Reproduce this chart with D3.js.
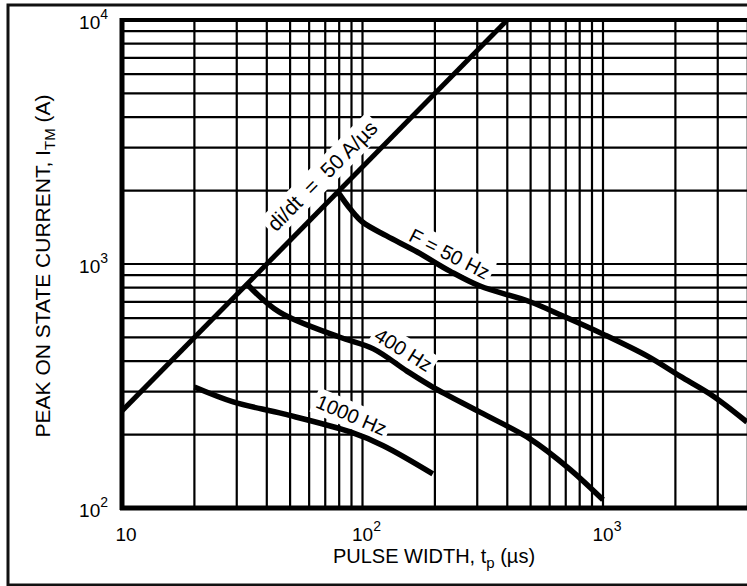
<!DOCTYPE html>
<html><head><meta charset="utf-8">
<script src="https://cdn.jsdelivr.net/npm/d3@7"></script>
<style>body{margin:0;background:#fff;overflow:hidden} svg{display:block}</style>
</head><body>
<svg id="c" width="747" height="586"></svg>
<script>
// ---- data ----
const xTickValues = [10, 100, 1000];
const xTickExps = ["", "2", "3"];
const yTickValues = [100, 1000, 10000];
const yTickExps = ["2", "3", "4"];
const xGridValues = [20,30,40,50,60,70,80,90,100,200,300,400,500,600,700,800,900,1000,2000,3000,4000];
const yGridValues = [200,300,400,500,600,700,800,900,1000,2000,3000,4000,5000,6000,7000,8000,9000];
const didtLine = [[10,250],[410,10250]];
const f50Hz = [[79,1975],[89,1680],[100,1486],[126,1303],[169,1120],[231,935],[308,812],[497,700],[682,612],[1000,516],[1524,420],[2090,347],[2865,288],[3970,225]];
const f400Hz = [[33,830],[45,636],[80,502],[111,449],[153,364],[196,313],[308,247],[497,192],[729,144],[1000,108]];
const f1000Hz = [[20,313],[29,272],[47,243],[89,205],[122,180],[196,138]];
const labelTexts = ["di/dt  =  50 A/µs", "F = 50 Hz", "400 Hz", "1000 Hz"];
const labelAt = [[68,2300],[230,1100],[148,445],[90,240]];
const labelAngles = [-45, 27, 32, 23];
const xTitle = ["PULSE WIDTH, t", "p", " (µs)"];
const yTitle = ["PEAK ON STATE CURRENT, I", "TM", " (A)"];

// ---- layout ----
const svg = d3.select("#c");
const L = 122, T = 20, B = 508, D = 240.5;
const x = d3.scaleLog().domain([10, 10000]).range([L, L + 3 * D]);
const y = d3.scaleLog().domain([100, 10000]).range([B, T]);
const R = 790;
const font = "'Liberation Sans', Arial, Helvetica, sans-serif";

svg.append("rect").attr("width", 747).attr("height", 586).attr("fill", "#fff");
svg.append("rect").attr("x", 8).attr("y", 5).attr("width", 820).attr("height", 580)
  .attr("fill", "none").attr("stroke", "#111").attr("stroke-width", 3);

svg.append("clipPath").attr("id", "plot").append("rect")
  .attr("x", L).attr("y", T).attr("width", R - L).attr("height", B - T);

const g = svg.append("g").attr("clip-path", "url(#plot)");
g.selectAll("line.v").data(xGridValues).join("line")
  .attr("x1", d => x(d)).attr("x2", d => x(d)).attr("y1", T).attr("y2", B)
  .attr("stroke", "#000").attr("stroke-width", 2.2);
g.selectAll("line.h").data(yGridValues).join("line")
  .attr("y1", d => y(d)).attr("y2", d => y(d)).attr("x1", L).attr("x2", R)
  .attr("stroke", "#000").attr("stroke-width", 2.2);

// layers: knockouts, curves, label text
const knock = svg.append("g");
const cg = svg.append("g").attr("clip-path", "url(#plot)");
const labels = svg.append("g");

const tf = (d, i) => `translate(${x(labelAt[i][0])},${y(labelAt[i][1])}) rotate(${labelAngles[i]})`;
const lt = labels.selectAll("text").data(labelTexts).join("text")
  .attr("transform", tf)
  .text(d => d).style("white-space", "pre")
  .attr("text-anchor", "middle").attr("dy", "0.35em")
  .attr("font-family", font).attr("font-size", (d, i) => i === 0 ? 21 : 20)
  .attr("fill", "#000");
lt.each(function(d, i) {
  const bb = this.getBBox();
  knock.append("rect").attr("transform", tf(d, i))
    .attr("x", bb.x - 3).attr("y", bb.y - 2).attr("width", bb.width + 6).attr("height", bb.height + 4)
    .attr("fill", "#fff");
});

const line = d3.line().x(d => x(d[0])).y(d => y(d[1]));
const smooth = d3.line().x(d => x(d[0])).y(d => y(d[1])).curve(d3.curveCatmullRom.alpha(0.5));
cg.append("path").attr("d", line(didtLine)).attr("fill", "none").attr("stroke", "#000").attr("stroke-width", 5);
[f50Hz, f400Hz, f1000Hz].forEach(s => {
  cg.append("path").attr("d", smooth(s))
    .attr("fill", "none").attr("stroke", "#000").attr("stroke-width", 5.5).attr("stroke-linecap", "butt");
});

// plot frame
svg.append("line").attr("x1", L).attr("x2", L).attr("y1", T - 2).attr("y2", B + 2).attr("stroke", "#000").attr("stroke-width", 5);
svg.append("line").attr("x1", L - 2).attr("x2", R).attr("y1", B).attr("y2", B).attr("stroke", "#000").attr("stroke-width", 5);
svg.append("line").attr("x1", L - 2).attr("x2", R).attr("y1", T).attr("y2", T).attr("stroke", "#000").attr("stroke-width", 4);

// tick labels
const xt = svg.selectAll("text.xt").data(xTickValues).join("text")
  .attr("x", d => x(d) + 4).attr("y", B + 33).attr("text-anchor", "middle")
  .attr("font-family", font).attr("font-size", 19).attr("fill", "#000");
xt.append("tspan").text("10");
xt.append("tspan").text((d, i) => xTickExps[i]).attr("dy", -10).attr("font-size", 14);

const yt = svg.selectAll("text.yt").data(yTickValues).join("text")
  .attr("x", L - 14).attr("y", d => y(d) + 9).attr("text-anchor", "end")
  .attr("font-family", font).attr("font-size", 19).attr("fill", "#000");
yt.append("tspan").text("10");
yt.append("tspan").text((d, i) => yTickExps[i]).attr("dy", -10).attr("font-size", 14);

// axis titles
const xtt = svg.append("text").attr("x", 434).attr("y", 563).attr("text-anchor", "middle")
  .attr("font-family", font).attr("font-size", 20).attr("fill", "#000");
xtt.append("tspan").text(xTitle[0]);
xtt.append("tspan").text(xTitle[1]).attr("dy", 5).attr("font-size", 15);
xtt.append("tspan").text(xTitle[2]).attr("dy", -5);

const ytt = svg.append("text").attr("transform", "translate(50,266) rotate(-90)").attr("text-anchor", "middle")
  .attr("font-family", font).attr("font-size", 21).attr("fill", "#000");
ytt.append("tspan").text(yTitle[0]);
ytt.append("tspan").text(yTitle[1]).attr("dy", 5).attr("font-size", 15);
ytt.append("tspan").text(yTitle[2]).attr("dy", -5);
</script>
</body></html>
